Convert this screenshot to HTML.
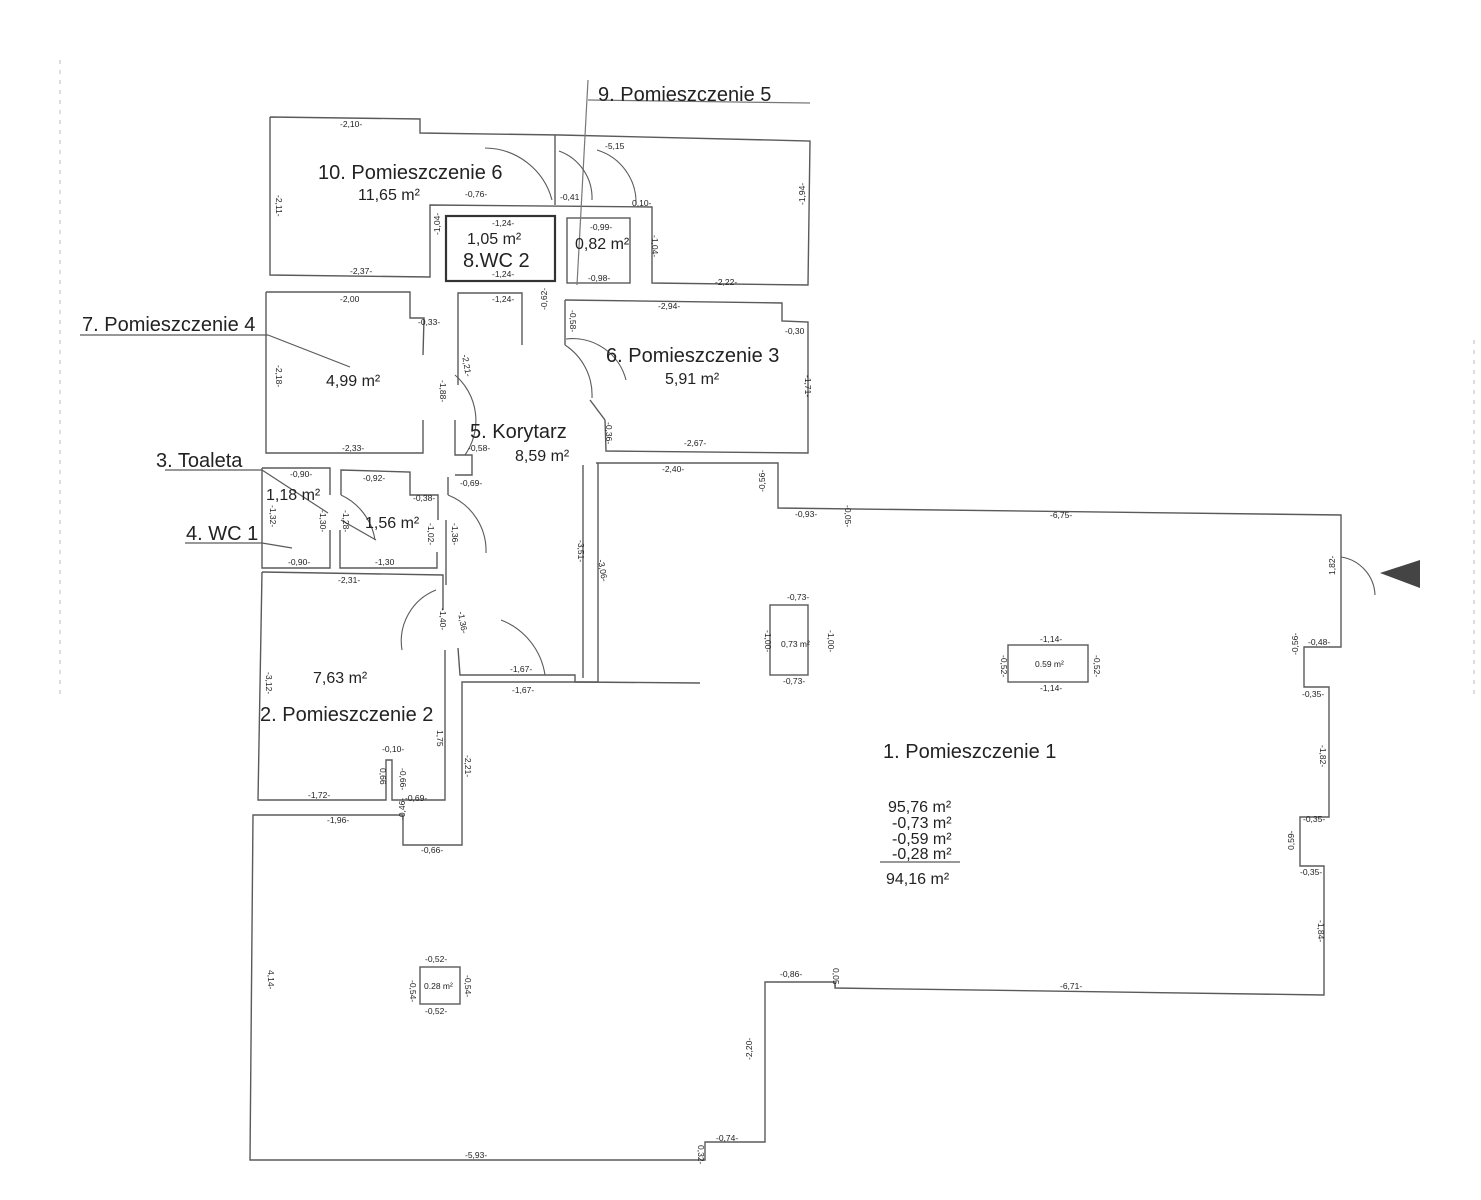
<!DOCTYPE html>
<html><head><meta charset="utf-8"><style>
body{margin:0;background:#fff;}
svg{display:block}
text{font-family:"Liberation Sans",sans-serif;fill:#222}
.s{font-size:8.5px}
.l{font-size:20px}
.a{font-size:16px}
</style></head><body>
<svg width="1481" height="1200" viewBox="0 0 1481 1200" xmlns="http://www.w3.org/2000/svg">
<g fill="none" stroke="#5a5a5a" stroke-width="1.4">
<polyline points="270,117 420,119 420,133 560,135 810,141 808,285 652,283 652,207 430,205 430,277 270,275 270,117"/>
<line x1="555" y1="135" x2="555" y2="205"/>
<rect x="446" y="216" width="109" height="65" stroke="#333" stroke-width="2.2"/>
<rect x="567" y="218" width="63" height="65"/>
<line x1="588" y1="80" x2="577" y2="285" stroke="#777" stroke-width="1.2"/>
<line x1="588" y1="100" x2="810" y2="103" stroke="#777" stroke-width="1.2"/>
<polyline points="266,292 410,292 410,318 424,318 423,355"/>
<polyline points="423,420 423,453 266,453 266,292"/>
<polyline points="458,385 458,293 522,293 522,345"/>
<polyline points="455,420 455,455 472,455 472,475 455,475"/>
<polyline points="448,477 448,495"/>
<line x1="446" y1="520" x2="446" y2="585"/>
<polyline points="458,648 460,675 575,675 575,682"/>
<polyline points="565,300 782,303 782,321 808,322 808,453 606,451 605,420"/>
<line x1="565" y1="300" x2="565" y2="345"/>
<line x1="590" y1="400" x2="605" y2="420"/>
<polyline points="262,468 330,468 330,495"/>
<polyline points="330,530 330,568 262,568 262,468"/>
<polyline points="341,495 341,470 410,472 410,495 438,495 438,520"/>
<polyline points="340,530 340,568 437,568 437,552"/>
<polyline points="262,572 443,575 443,610"/>
<polyline points="445,650 445,800 392,800 392,760 386,760 386,800 258,800 262,572"/>
<polyline points="596,463 778,463 778,508 1341,515 1341,647 1304,647 1304,687 1329,687 1329,817 1300,817 1300,866 1324,866 1324,995 835,988 835,982 765,982 765,1142 705,1142 705,1160 250,1160 253,815 403,815 403,845 462,845 462,682 598,682 598,463"/>
<line x1="583" y1="465" x2="583" y2="678"/>
<line x1="575" y1="682" x2="700" y2="683"/>
<rect x="770" y="605" width="38" height="70"/>
<rect x="1008" y="645" width="80" height="37"/>
<rect x="420" y="967" width="40" height="37"/>
<path d="M485 148 A 70 70 0 0 1 552 200" stroke-width="1.1"/>
<path d="M559 151 A 50 50 0 0 1 592 200" stroke-width="1.1"/>
<path d="M597 150 A 55 55 0 0 1 636 205" stroke-width="1.1"/>
<path d="M455 375 A 60 60 0 0 1 465 455" stroke-width="1.1"/>
<path d="M565 345 A 60 60 0 0 1 592 398" stroke-width="1.1"/>
<path d="M566 339 A 55 55 0 0 1 626 380" stroke-width="1.1"/>
<path d="M341 495 A 60 60 0 0 1 375 540" stroke-width="1.1"/>
<path d="M448 495 A 60 60 0 0 1 486 553" stroke-width="1.1"/>
<path d="M436 590 A 55 55 0 0 0 402 650" stroke-width="1.1"/>
<path d="M501 620 A 70 70 0 0 1 545 675" stroke-width="1.1"/>
<path d="M1341 557 A 40 40 0 0 1 1375 595" stroke-width="1.1"/>
<line x1="80" y1="335" x2="268" y2="335" stroke-width="1.2"/>
<line x1="268" y1="335" x2="350" y2="367" stroke-width="1.2"/>
<line x1="165" y1="470" x2="262" y2="470" stroke-width="1.2"/>
<line x1="262" y1="470" x2="328" y2="513" stroke-width="1.2"/>
<line x1="185" y1="543" x2="262" y2="543" stroke-width="1.2"/>
<line x1="262" y1="543" x2="292" y2="548" stroke-width="1.2"/>
<line x1="341" y1="520" x2="376" y2="540" stroke-width="1.2"/>
<line x1="880" y1="862" x2="960" y2="862" stroke-width="1.2"/>
</g>
<polygon points="1380,573 1420,560 1420,588" fill="#444"/>
<text class="l" x="598" y="101">9. Pomieszczenie 5</text>
<text class="l" x="318" y="179">10. Pomieszczenie 6</text>
<text class="a" x="358" y="200">11,65 m²</text>
<text class="a" x="467" y="244">1,05 m²</text>
<text class="l" x="463" y="267" font-size="19">8.WC 2</text>
<text class="a" x="575" y="249">0,82 m²</text>
<text class="l" x="82" y="331">7. Pomieszczenie 4</text>
<text class="a" x="326" y="386">4,99 m²</text>
<text class="l" x="606" y="362">6. Pomieszczenie 3</text>
<text class="a" x="665" y="384">5,91 m²</text>
<text class="l" x="470" y="438">5. Korytarz</text>
<text class="a" x="515" y="461">8,59 m²</text>
<text class="l" x="156" y="467">3. Toaleta</text>
<text class="a" x="266" y="500">1,18 m²</text>
<text class="a" x="365" y="528">1,56 m²</text>
<text class="l" x="186" y="540">4. WC 1</text>
<text class="a" x="313" y="683">7,63 m²</text>
<text class="l" x="260" y="721">2. Pomieszczenie 2</text>
<text class="l" x="883" y="758">1. Pomieszczenie 1</text>
<text class="a" x="888" y="812">95,76 m²</text>
<text class="a" x="892" y="828">-0,73 m²</text>
<text class="a" x="892" y="844">-0,59 m²</text>
<text class="a" x="892" y="859">-0,28 m²</text>
<text class="a" x="886" y="884">94,16 m²</text>
<text class="s" x="781" y="647" font-size="7.5">0,73 m²</text>
<text class="s" x="1035" y="667" font-size="7.5">0.59 m²</text>
<text class="s" x="424" y="989" font-size="7.5">0.28 m²</text>
<g class="s">
<text x="340" y="127" class="s">-2,10-</text>
<text x="465" y="197" class="s">-0,76-</text>
<text x="560" y="200" class="s">-0,41</text>
<text x="632" y="206" class="s">0,10-</text>
<text x="605" y="149" class="s">-5,15</text>
<text x="492" y="226" class="s">-1,24-</text>
<text x="492" y="277" class="s">-1,24-</text>
<text x="590" y="230" class="s">-0,99-</text>
<text x="588" y="281" class="s">-0,98-</text>
<text x="350" y="274" class="s">-2,37-</text>
<text x="715" y="285" class="s">-2,22-</text>
<text x="340" y="302" class="s">-2,00</text>
<text x="418" y="325" class="s">-0,33-</text>
<text x="492" y="302" class="s">-1,24-</text>
<text x="658" y="309" class="s">-2,94-</text>
<text x="785" y="334" class="s">-0,30</text>
<text x="342" y="451" class="s">-2,33-</text>
<text x="684" y="446" class="s">-2,67-</text>
<text x="468" y="451" class="s">-0,58-</text>
<text x="460" y="486" class="s">-0,69-</text>
<text x="290" y="477" class="s">-0,90-</text>
<text x="363" y="481" class="s">-0,92-</text>
<text x="413" y="501" class="s">-0,38-</text>
<text x="288" y="565" class="s">-0,90-</text>
<text x="375" y="565" class="s">-1,30</text>
<text x="338" y="583" class="s">-2,31-</text>
<text x="510" y="672" class="s">-1,67-</text>
<text x="512" y="693" class="s">-1,67-</text>
<text x="382" y="752" class="s">-0,10-</text>
<text x="308" y="798" class="s">-1,72-</text>
<text x="405" y="801" class="s">-0,69-</text>
<text x="327" y="823" class="s">-1,96-</text>
<text x="421" y="853" class="s">-0,66-</text>
<text x="662" y="472" class="s">-2,40-</text>
<text x="795" y="517" class="s">-0,93-</text>
<text x="1050" y="518" class="s">-6,75-</text>
<text x="787" y="600" class="s">-0,73-</text>
<text x="783" y="684" class="s">-0,73-</text>
<text x="1040" y="642" class="s">-1,14-</text>
<text x="1040" y="691" class="s">-1,14-</text>
<text x="1308" y="645" class="s">-0,48-</text>
<text x="1302" y="697" class="s">-0,35-</text>
<text x="1303" y="822" class="s">-0,35-</text>
<text x="1300" y="875" class="s">-0,35-</text>
<text x="780" y="977" class="s">-0,86-</text>
<text x="1060" y="989" class="s">-6,71-</text>
<text x="425" y="962" class="s">-0,52-</text>
<text x="425" y="1014" class="s">-0,52-</text>
<text x="716" y="1141" class="s">-0,74-</text>
<text x="465" y="1158" class="s">-5,93-</text>
</g>
<g class="s">
<text transform="translate(276,195) rotate(90)" class="s">-2,11-</text>
<text transform="translate(276,365) rotate(90)" class="s">-2,18-</text>
<text transform="translate(266,672) rotate(90)" class="s">-3,12-</text>
<text transform="translate(268,970) rotate(90)" class="s">4,14-</text>
<text transform="translate(440,235) rotate(-90)" class="s">-1,04-</text>
<text transform="translate(652,235) rotate(90)" class="s">-1,04-</text>
<text transform="translate(805,205) rotate(-90)" class="s">-1,94-</text>
<text transform="translate(805,375) rotate(90)" class="s">-1,71-</text>
<text transform="translate(440,380) rotate(90)" class="s">-1,88-</text>
<text transform="translate(462,355) rotate(80)" class="s">-2,21-</text>
<text transform="translate(547,310) rotate(-90)" class="s">-0,62-</text>
<text transform="translate(570,310) rotate(90)" class="s">-0,58-</text>
<text transform="translate(606,422) rotate(90)" class="s">-0,36-</text>
<text transform="translate(578,540) rotate(90)" class="s">-3,51-</text>
<text transform="translate(598,560) rotate(80)" class="s">-3,06-</text>
<text transform="translate(765,492) rotate(-90)" class="s">-0,56-</text>
<text transform="translate(845,505) rotate(90)" class="s">-0,05-</text>
<text transform="translate(765,630) rotate(90)" class="s">-1,00-</text>
<text transform="translate(828,630) rotate(90)" class="s">-1,00-</text>
<text transform="translate(1001,655) rotate(90)" class="s">-0,52-</text>
<text transform="translate(1094,655) rotate(90)" class="s">-0,52-</text>
<text transform="translate(1335,575) rotate(-90)" class="s">1,82-</text>
<text transform="translate(1298,655) rotate(-90)" class="s">-0,56-</text>
<text transform="translate(1320,745) rotate(90)" class="s">-1,82-</text>
<text transform="translate(1294,850) rotate(-90)" class="s">0,59-</text>
<text transform="translate(1318,920) rotate(90)" class="s">-1,84-</text>
<text transform="translate(833,968) rotate(90)" class="s">0,05-</text>
<text transform="translate(752,1060) rotate(-90)" class="s">-2,20-</text>
<text transform="translate(698,1145) rotate(90)" class="s">0,32-</text>
<text transform="translate(440,608) rotate(90)" class="s">-1,40-</text>
<text transform="translate(458,612) rotate(80)" class="s">-1,36-</text>
<text transform="translate(465,755) rotate(90)" class="s">-2,21-</text>
<text transform="translate(437,730) rotate(90)" class="s">1,75</text>
<text transform="translate(380,768) rotate(90)" class="s">0,66</text>
<text transform="translate(400,768) rotate(90)" class="s">-0,66-</text>
<text transform="translate(405,820) rotate(-90)" class="s">-0,46-</text>
<text transform="translate(428,523) rotate(90)" class="s">-1,02-</text>
<text transform="translate(452,523) rotate(90)" class="s">-1,36-</text>
<text transform="translate(270,505) rotate(90)" class="s">-1,32-</text>
<text transform="translate(320,510) rotate(90)" class="s">-1,30-</text>
<text transform="translate(343,510) rotate(90)" class="s">-1,28-</text>
<text transform="translate(410,980) rotate(90)" class="s">-0,54-</text>
<text transform="translate(465,975) rotate(90)" class="s">-0,54-</text>
</g>
<g stroke="#bbb" stroke-width="1" stroke-dasharray="4 6">
<line x1="60" y1="60" x2="60" y2="700"/>
<line x1="1474" y1="340" x2="1474" y2="700"/>
</g>
</svg>
</body></html>
